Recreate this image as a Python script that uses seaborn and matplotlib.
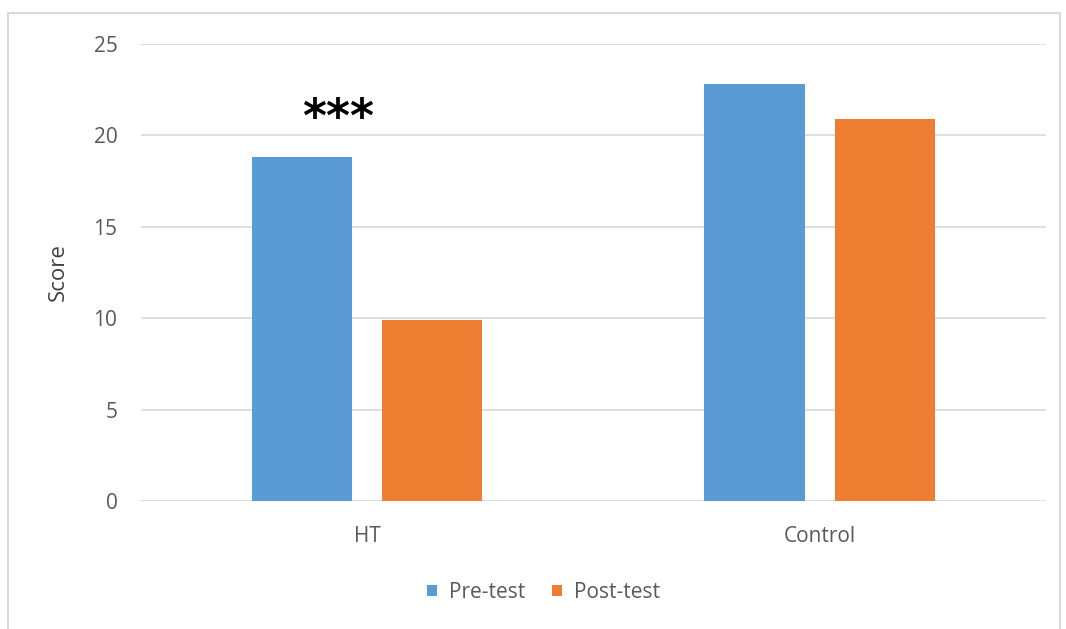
import matplotlib.pyplot as plt
import seaborn as sns
import pandas as pd
from matplotlib.patches import Rectangle

# Data
groups = ["HT", "Control"]
phases = ["Pre-test", "Post-test"]
pre_scores = [18.8, 22.8]
post_scores = [9.9, 20.9]

df = pd.DataFrame({
    "Group": groups * 2,
    "Phase": [phases[0]] * 2 + [phases[1]] * 2,
    "Score": pre_scores + post_scores,
})

sns.set_style("white")
plt.rcParams['font.family'] = ['Open Sans', 'DejaVu Sans']

fig = plt.figure(figsize=(10.66, 6.29), dpi=100)
ax = fig.add_axes([0.1323, 0.2035, 0.8487, 0.7265])

sns.barplot(data=df, x="Group", y="Score", hue="Phase", order=groups,
            hue_order=phases, palette=["#5b9bd5", "#ed7d31"],
            width=0.575, gap=0.23, saturation=1, linewidth=0, ax=ax)

ax.set_ylim(0, 25)
ax.set_xlim(-0.5, 1.5)
ax.set_yticks(range(0, 26, 5))
ax.yaxis.grid(True, color="#d9d9d9", linewidth=1.2)
ax.set_axisbelow(True)
for s in ax.spines.values():
    s.set_visible(False)
ax.tick_params(axis="both", length=0, labelsize=15, colors="#595959")
ax.tick_params(axis="y", pad=17)
ax.tick_params(axis="x", pad=18)
ax.set_xlabel("")
ax.set_ylabel("Score", fontsize=16, color="#404040", labelpad=18)

# significance marker
ax.text(-0.065, 20.2, "***", ha="center", va="baseline", fontsize=33,
        fontweight="bold", color="black", family="DejaVu Sans")

ax.legend(loc="center", bbox_to_anchor=(0.445, -0.2), ncol=2, frameon=False,
          fontsize=15, handlelength=0.48, handleheight=0.48, handletextpad=0.58,
          columnspacing=1.25, labelcolor="#595959")

# chart frame
fig.patches.append(Rectangle((8 / 1066, -0.01), 1052 / 1066, 1 - 13 / 629 + 0.01,
                             transform=fig.transFigure, fill=False,
                             edgecolor="#d9d9d9", linewidth=1.5))

fig.savefig("out.png", dpi=100)
